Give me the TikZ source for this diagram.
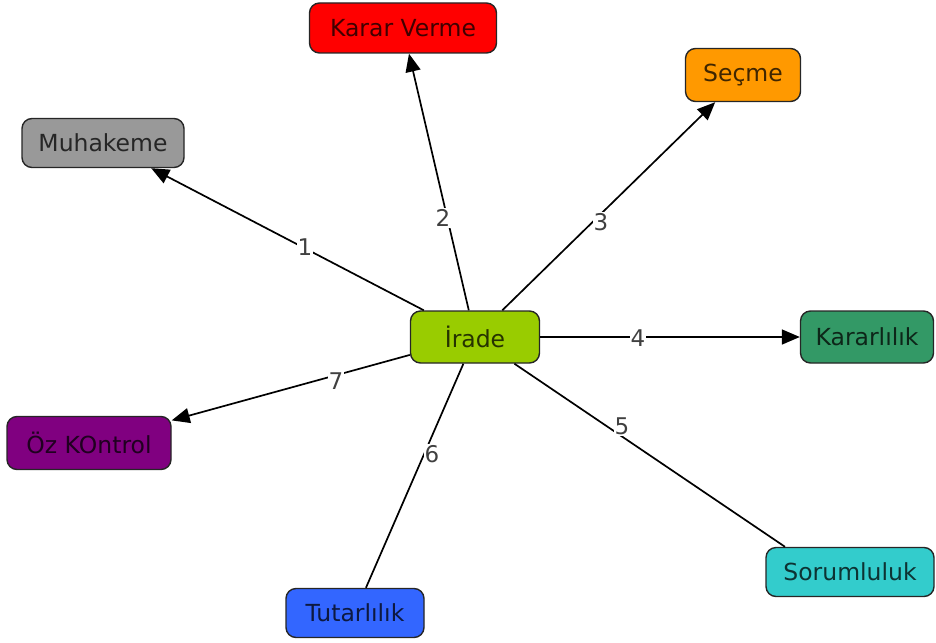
\documentclass[tikz,border=0pt]{standalone}
\usepackage{fontspec}
\setmainfont{DejaVu Sans}
\usetikzlibrary{arrows.meta}
\definecolor{cIrade}{HTML}{99CC00}
\definecolor{cKarar}{HTML}{FF0000}
\definecolor{cSecme}{HTML}{FF9900}
\definecolor{cMuhak}{HTML}{999999}
\definecolor{cKararl}{HTML}{339966}
\definecolor{cOz}{HTML}{800080}
\definecolor{cTutar}{HTML}{3366FF}
\definecolor{cSorum}{HTML}{33CCCC}
\begin{document}
\begin{tikzpicture}[x=1pt,y=-1pt,
  concept/.style={draw=black!85, line width=1.4pt, rounded corners=10pt,
    inner sep=0pt, minimum height=50pt, fill=#1, text=#1!25!black,
    font=\fontsize{23.5}{28}\selectfont},
  link/.style={line width=1.7pt, black},
  arr/.style={link, -{Triangle[length=18pt,width=15pt]}},
  lab/.style={fill=white, inner sep=1pt, text=black!75,
    font=\fontsize{23}{27}\selectfont}]
\useasboundingbox (0,0) rectangle (936,642);

% concepts
\node[concept=cIrade,  minimum width=129pt, minimum height=52pt] (irade) at (475,337) {İrade};
\node[concept=cKarar,  minimum width=187pt] (karar) at (403,28)  {Karar Verme};
\node[concept=cSecme,  minimum width=115pt, minimum height=53pt] (secme) at (743,75) {Seçme};
\node[concept=cMuhak,  minimum width=162pt, minimum height=49pt] (muhak) at (103,143) {Muhakeme};
\node[concept=cKararl, minimum width=133pt, minimum height=52pt] (kararl) at (867,337) {Kararlılık};
\node[concept=cOz,     minimum width=164pt, minimum height=53pt] (oz) at (89,443) {Öz KOntrol};
\node[concept=cTutar,  minimum width=138pt, minimum height=49pt] (tutar) at (355,613) {Tutarlılık};
\node[concept=cSorum,  minimum width=168pt, minimum height=49pt] (sorum) at (850,572) {Sorumluluk};

% links
\draw[arr]  (irade) -- (muhak);
\draw[arr]  (irade) -- (karar);
\draw[arr]  (irade) -- (secme);
\draw[arr]  (irade) -- (kararl);
\draw[link] (irade) -- ([xshift=-65pt]sorum.north);
\draw[link] (irade) -- (tutar);
\draw[arr]  (irade) -- (oz);

% link labels
\node[lab] (l1) at (305,247) {1};
\node[lab] (l2) at (443,218) {2};
\node[lab] (l3) at (601,222) {3};
\node[lab] (l4) at (638,338) {4};
\node[lab] (l5) at (622,426) {5};
\node[lab] (l6) at (432,454) {6};
\node[lab] (l7) at (336,381) {7};
\end{tikzpicture}
\end{document}
